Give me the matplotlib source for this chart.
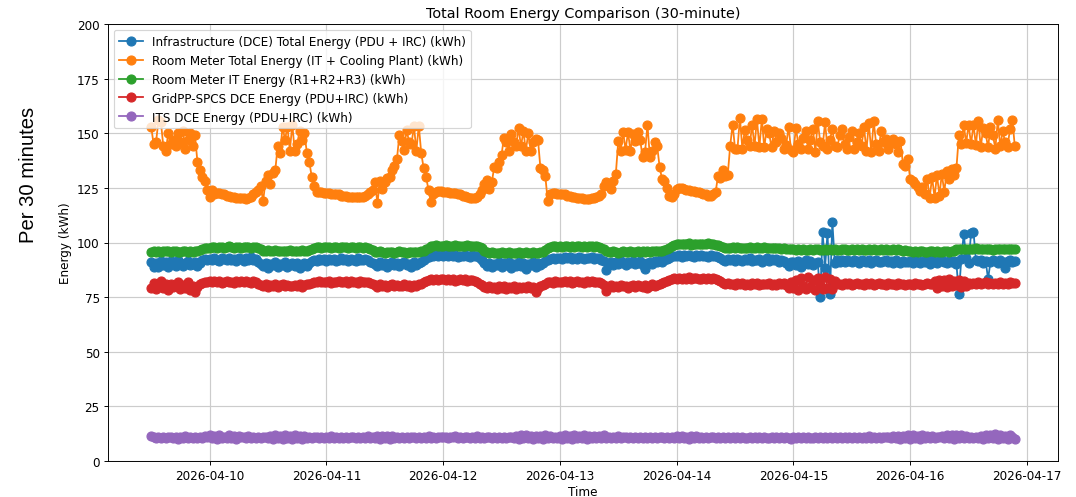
import matplotlib
matplotlib.use("Agg")
import matplotlib.pyplot as plt
import pandas as pd

# 30-minute readings starting 2026-04-09 12:00
start_time = "2026-04-09 12:00"
step = "30min"

infra_dce = [
    91.2, 89.0, 90.5, 88.7, 91.6, 89.8, 90.9, 88.9, 91.4, 90.1, 89.3, 91.8, 90.4, 89.1, 90.8, 91.5, 89.6, 90.3, 91.1, 89.4, 90.7, 91.9, 92.3, 92.0,
    92.5, 91.8, 93.0, 92.2, 91.6, 92.8, 92.4, 91.9, 93.1, 92.0, 92.6, 91.7, 92.9, 92.3, 91.5, 92.7, 92.1, 93.2, 91.8, 92.4, 91.2,
    90.1, 89.2, 90.6, 88.4, 90.3, 89.7, 91.0, 88.8, 90.2, 89.5, 90.9, 88.6, 89.9, 90.7, 89.1, 90.4, 88.3, 89.8, 90.5, 89.3, 90.8, 91.4,
    92.0, 91.6, 92.5, 91.8, 92.3,
    91.7, 92.4, 91.9, 92.6, 91.5, 92.2, 92.8, 91.8, 92.3, 91.6, 92.5, 92.0, 91.4, 92.7, 92.1, 91.8, 92.4, 91.9, 91.3, 90.8,
    90.2, 89.4, 91.0, 89.8, 90.6, 88.9, 90.4, 91.2, 89.6, 90.8, 89.2, 90.5, 91.1, 89.7, 90.3, 88.8, 90.9, 89.9, 90.6, 91.3, 92.0, 92.9, 93.5,
    94.1, 93.6, 94.4, 93.8, 94.2,
    93.9, 94.3, 93.6, 94.1, 93.8, 94.4, 93.5, 94.0, 93.7, 94.2, 93.9, 93.4, 94.1, 93.8, 93.6, 92.9, 92.1,
    90.4, 89.3, 90.8, 88.7, 90.1, 89.6, 91.2, 88.9, 90.5, 89.8, 91.0, 88.5, 90.3, 89.4, 90.9, 89.1, 90.6, 87.9, 90.2, 89.7, 91.1, 88.8, 90.4, 89.5, 90.7, 91.5, 92.2,
    92.6, 93.1, 92.5, 93.0,
    92.9, 92.4, 93.2, 92.7, 93.4, 92.6, 93.0, 92.3, 93.3, 92.8, 92.5, 93.1, 92.7, 93.5, 92.4, 92.9, 93.0, 92.2, 91.6,
    87.6, 90.5, 91.3, 89.9, 91.0, 90.2, 91.6, 90.7, 89.8, 91.2, 90.4, 91.5, 90.0, 90.8, 91.4, 89.6, 87.8, 90.6, 91.1, 90.3, 91.7, 90.9, 91.8, 91.2, 92.0, 92.4, 93.0, 93.6, 93.9,
    93.8, 94.3, 93.5, 94.1, 93.7, 94.5, 93.9, 93.4, 94.2, 93.6, 94.4, 93.8, 94.0, 93.5, 94.3, 93.7, 93.9, 93.2, 92.8,
    92.1, 91.6, 92.5, 91.9, 92.3, 91.4, 92.6, 92.0, 91.7, 92.4, 91.8, 92.7, 91.5, 92.2, 91.9, 92.5, 91.3, 92.1, 92.8, 91.6, 92.3, 91.8, 92.4, 91.2, 92.0, 91.5, 90.6, 89.3, 91.1,
    91.0, 89.5, 91.6, 88.9, 90.8, 91.9, 90.2, 91.4, 89.8, 90.6, 91.2,
    75.0, 104.7, 88.5, 104.3, 76.4, 109.5, 90.8,
    92.0, 91.3, 91.8, 90.9, 92.2, 91.5, 91.0, 91.9, 91.4, 90.7, 92.1, 91.6, 91.2, 91.8, 90.5, 91.7, 92.0, 91.3, 90.9, 91.6, 92.2, 91.1, 91.5, 90.8, 91.9, 91.3, 90.6, 91.7, 91.2, 91.0,
    91.4, 90.8, 91.9, 91.2, 90.5, 91.7, 91.0, 91.6, 90.3, 91.8, 91.1, 90.7, 91.5, 92.0, 91.2, 90.6, 91.4, 90.9, 91.7, 90.2,
    76.5, 92.5, 103.9, 93.0, 90.5, 104.2, 105.0, 92.2,
    91.5, 92.1, 90.8, 91.7, 83.3, 91.2, 92.0, 91.4, 90.6, 91.8, 91.1, 88.4, 91.6, 92.1, 91.3, 91.7,
]

room_total = [
    153, 145, 146, 156, 155, 144, 142, 150, 145, 147, 144, 150, 146, 151, 143, 147, 150, 144, 149, 137, 133, 130, 128, 124,
    121, 124, 122, 122.5, 122.5, 122, 122, 121.5, 121.5, 121, 121, 120.5, 120.5, 120.5, 120.5, 120, 120.5, 121, 122, 123,
    124, 126, 119, 128, 131, 127, 132, 133, 144, 141, 153, 147, 153, 142, 154, 142, 145, 151, 147, 150, 141, 137, 130, 126,
    123, 123, 123, 122.5,
    122.5, 122.5, 122, 122, 122, 122, 121.5, 121.5, 121.5, 121, 121, 121, 121, 121, 121, 121, 121.5, 122, 123, 124,
    127.5, 118, 128, 124.5, 127.5, 129.5, 130, 133, 135, 138, 149, 146.5, 142.5, 151.5, 146, 145, 153.5, 142, 153.5, 141,
    134, 130, 124, 118.5, 122, 123, 123.5, 123.5,
    123, 123, 123, 122.5, 122.5, 122.5, 122, 122, 121.5, 121.5, 121, 120.5, 120.5, 120.5, 121, 122, 124, 127, 128.5, 124.5,
    127.5, 134.5, 134, 137, 140, 148, 146, 142, 149.5, 146, 144, 152.5, 144, 151, 142, 150, 142, 146, 147.5, 147,
    134, 133, 130.5, 119, 122, 122.5, 122.5, 122,
    122, 122, 122, 121.5, 121.5, 121, 121, 120.5, 120.5, 120.5, 120, 120, 120, 120.5, 120.5, 121, 121.5, 122, 126, 127.5,
    126, 124.5, 128, 131.5, 146.5, 142, 150.5, 142.5, 150.5, 142, 149.5, 146.5, 150.5, 147, 139, 141.5, 153.8, 139, 142, 145.8,
    144, 134.5, 129, 128, 125, 121.5, 121, 122,
    124.5, 125, 125, 124.5, 124, 124, 123.5, 123.5, 123, 123, 122.5, 122, 122, 121.5, 121.5, 122, 123, 130.5, 129.5, 133,
    130.5, 131, 144.3, 154, 143, 143, 157, 143, 151.5, 147, 144, 154, 144, 156.5, 143.5, 156.5, 143.5, 152, 150, 143.5,
    151, 146, 150, 148, 143, 144.5, 153, 142.5,
    141.5, 152.5, 145, 143, 148, 151, 143, 147, 152, 141.5, 155.5, 146, 144, 155, 143, 147, 152, 144, 143.5, 149,
    152, 145, 143, 148.5, 151, 143, 146, 150, 144, 153, 142, 154.5, 141.5, 155.5, 145, 142, 151, 146, 147.5, 143,
    145.5, 147.5, 145, 141.5, 146.5, 136, 135, 138,
    129, 128, 127, 125.5, 123.5, 125.5, 122, 129, 120.5, 130, 120.5, 131, 121.5, 131.5, 123, 132.5, 129, 133.5, 131, 134,
    149, 145, 154, 145.5, 154, 145, 154, 144.5, 155.5, 143.5, 152.5, 150, 143.5, 153, 149, 143, 156, 144, 151, 146,
    143.5, 152, 156, 144,
]

room_it = [
    95.6, 96.0, 95.8, 96.2, 95.7, 96.1, 95.9, 96.3, 95.6, 96.0, 96.2, 95.8, 95.5, 95.9, 96.1, 95.7, 96.0, 95.8, 96.2, 95.9, 96.4, 96.8, 97.3, 97.6,
    97.7, 97.9, 98.1, 97.6, 97.8, 98.0, 97.7, 97.9, 98.2, 97.8, 97.6, 97.9, 98.0, 97.7, 97.8, 98.1, 97.9, 97.6, 97.8, 98.0, 97.5,
    96.8, 96.3, 96.1, 96.4, 96.0, 96.2, 96.5, 96.1, 95.9, 96.3, 96.2, 96.0, 96.4, 96.1, 96.3, 95.9, 96.2, 96.5, 96.0, 96.3, 96.6, 97.1,
    97.6, 97.8, 98.0, 97.7, 97.9,
    97.8, 98.0, 97.7, 97.9, 98.1, 97.6, 97.8, 98.0, 97.9, 97.7, 98.1, 97.8, 97.6, 97.9, 98.0, 97.7, 97.8, 97.5, 97.0, 96.4,
    95.8, 95.5, 95.9, 95.6, 95.4, 95.7, 95.8, 95.5, 95.3, 95.6, 95.9, 95.5, 95.7, 95.4, 95.6, 95.8, 95.5, 95.7, 95.6, 95.9, 96.3, 96.9, 97.6,
    98.2, 98.5, 98.7, 98.4, 98.6,
    98.5, 98.8, 98.4, 98.6, 98.3, 98.7, 98.5, 98.2, 98.6, 98.4, 98.7, 98.5, 98.3, 98.6, 98.4, 98.1, 97.4,
    96.3, 95.6, 95.2, 95.5, 95.1, 95.4, 95.3, 95.6, 95.0, 95.2, 95.5, 95.3, 95.1, 95.4, 95.6, 95.2, 95.3, 95.5, 95.1, 95.4, 95.6, 95.3, 95.2, 95.5, 95.8, 96.4, 97.3,
    97.9, 98.2, 98.4, 98.1,
    98.3, 98.0, 98.2, 98.4, 98.1, 98.3, 98.0, 98.2, 98.5, 98.1, 98.3, 97.9, 98.2, 98.4, 98.0, 98.2, 98.1, 97.6, 96.9,
    96.2, 95.8, 95.5, 95.9, 95.7, 95.4, 95.8, 96.0, 95.6, 95.7, 95.9, 95.5, 95.8, 96.0, 95.6, 95.9, 95.7, 96.1, 95.8, 96.0, 96.2, 95.9, 96.3, 96.1, 96.4, 96.8, 97.5, 98.3, 98.9,
    99.2, 99.5, 99.1, 99.4, 99.3, 99.6, 99.0, 99.3, 99.5, 99.2, 99.4, 99.1, 99.3, 99.6, 99.2, 99.4, 99.0, 98.7, 98.2,
    97.8, 97.5, 97.7, 97.4, 97.8, 97.6, 97.9, 97.5, 97.7, 97.3, 97.6, 97.8, 97.5, 97.7, 97.9, 97.4, 97.6, 97.8, 97.5, 97.3, 97.6, 97.7, 97.4, 97.6, 97.2, 97.5, 97.0, 96.8, 97.1,
    96.8, 96.5, 96.9, 96.6, 97.0, 96.7, 96.4, 96.8, 96.6, 97.1, 96.9, 96.5, 96.7, 97.0, 96.6, 96.8, 96.4, 96.9, 96.7, 96.5, 96.8, 97.0, 96.6, 96.7,
    96.9, 96.5, 96.8, 96.6, 97.0, 96.7, 96.4, 96.8, 96.6, 96.9, 96.5, 96.7, 97.0, 96.6, 96.8, 96.4, 96.7, 96.9, 96.5, 96.8, 96.6, 96.3, 96.5, 96.2,
    96.0, 95.8, 96.1, 95.7, 95.9, 96.0, 95.6, 95.8, 96.1, 95.9, 95.7, 96.0, 95.8, 95.6, 95.9, 96.1, 95.8, 96.0, 96.3,
    96.8, 97.1, 96.9, 97.2, 97.0, 96.8, 97.1, 96.9, 97.3, 97.0, 96.8, 97.1, 96.9, 97.2, 97.0, 96.7, 97.0, 96.9, 97.2, 97.1, 96.8, 97.0, 96.9, 97.1, 97.0,
]

gridpp_dce = [
    79.2, 81.5, 78.6, 80.3, 82.4, 79.0, 80.8, 78.2, 81.2, 79.6, 80.1, 82.0, 78.9, 80.6, 79.4, 81.7, 78.4, 80.2, 77.3, 79.8, 81.0, 81.6, 82.1, 81.8,
    82.2, 81.7, 82.5, 81.9, 82.3, 81.6, 82.0, 82.6, 81.8, 82.1, 81.5, 82.4, 81.9, 82.2, 81.7, 82.5, 82.0, 81.6, 82.3, 81.8, 81.2,
    80.6, 80.2, 80.9, 79.8, 80.5, 80.1, 80.8, 79.6, 80.4, 81.0, 80.0, 80.7, 80.3, 79.9, 80.6, 80.2, 80.9, 79.7, 80.5, 80.8, 81.2, 81.6,
    82.0, 81.7, 82.3, 81.9, 82.1,
    81.9, 82.3, 81.6, 82.1, 81.8, 82.4, 81.7, 82.0, 82.2, 81.5, 82.3, 81.9, 82.1, 81.6, 82.2, 81.8, 82.0, 81.7, 81.4, 80.9,
    80.5, 79.8, 80.8, 80.2, 80.6, 79.5, 80.4, 81.0, 80.1, 80.7, 79.9, 80.3, 80.9, 80.0, 80.6, 79.7, 80.5, 80.2, 80.8, 81.2, 81.8, 82.4, 82.9,
    83.2, 82.8, 83.5, 83.0, 83.3,
    83.1, 82.7, 83.4, 82.9, 83.2, 82.6, 83.0, 83.3, 82.8, 83.1, 82.5, 83.0, 82.7, 82.4, 81.9, 81.2, 80.6,
    79.8, 79.3, 80.1, 79.0, 79.6, 78.8, 79.9, 79.2, 80.3, 78.9, 79.7, 79.4, 80.0, 78.6, 79.5, 79.1, 79.8, 79.3, 80.2, 79.0, 79.6, 77.3, 79.4, 80.1, 80.6, 81.2, 81.7,
    82.0, 81.6, 82.3, 81.9,
    82.1, 81.7, 82.4, 81.9, 82.2, 81.6, 82.0, 82.3, 81.8, 82.1, 81.5, 82.2, 81.9, 82.4, 81.7, 82.0, 81.8, 81.3, 80.7,
    77.6, 79.8, 80.4, 79.5, 80.2, 79.7, 80.6, 79.9, 80.3, 79.4, 80.1, 80.7, 79.6, 80.4, 80.0, 79.8, 80.5, 79.3, 80.2, 80.8, 80.1, 80.6, 81.0, 81.5, 82.1, 82.6, 83.0, 83.3, 83.6,
    83.5, 83.9, 83.2, 83.7, 83.4, 84.0, 83.3, 83.6, 83.8, 83.1, 83.5, 83.9, 83.4, 83.7, 83.2, 83.6, 83.3, 82.8, 82.2,
    81.5, 81.0, 81.4, 80.8, 81.2, 80.6, 81.3, 80.9, 81.5, 80.7, 81.1, 80.5, 81.3, 80.9, 81.4, 80.6, 81.0, 81.2, 80.8, 81.4, 80.7, 81.1, 80.4, 81.3, 80.9, 81.5, 80.6, 79.4, 81.8,
    79.0, 82.8, 78.4, 83.6, 80.2, 78.9, 84.1, 79.5, 82.9, 78.2, 83.8, 80.6, 78.7, 84.3, 79.2, 83.1, 78.5, 82.4, 80.8,
    81.2, 80.7, 81.5, 80.9, 81.3, 80.6, 81.1, 81.4, 80.8, 81.2, 80.5, 81.3, 80.9, 81.6, 80.7, 81.0, 81.4, 80.8, 81.2, 80.6, 81.3, 80.9, 81.1, 80.5, 81.4, 80.8, 81.2, 80.6, 81.0,
    81.1, 80.7, 81.3, 80.9, 81.2, 80.6, 81.0, 81.4, 80.8, 81.2, 82.6, 79.4, 83.0, 80.2, 82.8, 79.6, 83.1, 79.9, 82.5, 80.4,
    82.9, 79.5, 82.3, 80.1, 81.6, 80.8, 81.4, 81.0, 81.7, 80.9, 81.3, 81.8, 81.0, 81.5, 80.8, 81.6, 81.2, 81.9, 81.1, 81.5,
    80.9, 81.7, 81.3, 81.6,
]

its_dce = [
    11.6, 10.9, 10.4, 11.0, 10.6, 11.2, 10.3, 10.8, 11.1, 10.5, 10.9, 10.2, 11.0, 10.7, 11.3, 10.4, 10.8, 10.6, 11.1, 10.3, 10.9, 10.5, 11.4, 10.8,
    11.8, 10.4, 11.5, 10.1, 11.7, 10.6, 11.2, 10.3, 11.9, 10.5, 11.4, 10.2, 11.6, 10.8, 11.0, 10.4, 11.3, 10.7, 10.9, 10.5, 11.1, 10.3, 10.8, 11.2,
    10.6, 11.5, 10.2, 11.8, 10.4, 11.6, 10.0, 11.9, 10.3, 11.4, 10.1, 11.7, 10.6, 11.3, 10.2, 11.5, 10.7, 11.0, 10.4, 11.2, 10.8, 10.5, 11.1, 10.6,
    11.0, 10.5, 11.3, 10.7, 10.9, 10.4, 11.2, 10.6, 11.0, 10.3, 11.1, 10.8, 10.5, 11.2, 10.7, 10.9, 10.4, 11.3, 10.6, 11.0, 10.5, 11.4, 10.2, 11.6,
    10.4, 11.5, 10.1, 11.3, 10.6, 11.1, 10.5, 10.9, 10.7, 11.2, 10.4, 11.0, 10.8, 10.6, 11.1, 10.5, 10.9, 10.7, 11.3, 10.4, 11.0, 10.6, 11.2, 10.8,
    10.9, 11.2, 10.6, 11.0, 10.8, 11.3, 10.5, 11.1, 10.7, 10.9, 11.2, 10.6, 11.0, 10.4, 11.3, 10.7, 10.9, 10.5, 11.1, 10.8, 10.6, 11.0, 10.3, 11.2,
    10.7, 10.9, 10.5, 11.1, 10.8, 10.6, 11.4, 10.2, 11.7, 10.3, 11.8, 10.4, 11.5, 10.1, 11.6, 10.5, 11.3, 10.2, 11.7, 10.4, 11.5, 10.6, 11.2, 10.3,
    11.6, 10.2, 11.8, 10.4, 11.5, 10.1, 11.9, 10.3, 11.4, 10.6, 11.7, 10.2, 11.5, 10.5, 11.3, 10.4, 11.6, 10.3, 11.8, 10.5, 11.2, 10.7, 11.0, 10.4,
    11.3, 10.6, 11.1, 10.8, 10.5, 11.2, 10.7, 10.9, 10.4, 11.0, 10.6, 11.1, 10.3, 10.9, 10.7, 11.2, 10.5, 11.0, 10.8, 10.6, 11.1, 10.4, 10.9, 10.7,
    11.4, 10.3, 11.6, 10.5, 11.2, 10.2, 11.5, 10.6, 11.3, 10.4, 11.0, 10.7, 10.9, 10.5, 11.1, 10.8, 10.6, 11.0, 10.4, 11.2, 10.7, 10.9, 10.3, 11.0,
    10.6, 10.8, 10.4, 11.1, 10.7, 10.5, 10.9, 10.3, 11.2, 10.6, 10.8, 10.5, 11.0, 10.7, 10.4, 10.9, 10.6, 11.1, 10.3, 10.8, 10.5, 11.0, 10.6, 10.2,
    10.8, 10.4, 11.0, 10.6, 10.9, 10.5, 11.1, 10.7, 10.3, 11.0, 10.6, 10.8, 10.4, 11.2, 10.7, 10.9, 10.5, 11.0, 10.6, 10.8, 10.3, 11.1, 10.7, 10.9,
    10.5, 11.2, 10.6, 10.8, 10.4, 11.0, 10.7, 11.3, 10.5, 11.1, 10.6, 10.9, 10.4, 11.2, 10.8, 11.0, 10.5, 11.4, 10.3, 11.6, 10.2, 11.5, 10.4, 11.7,
    10.1, 11.8, 10.3, 11.5, 10.2, 11.9, 10.4, 11.6, 10.6, 11.3, 10.5, 11.1, 10.8, 11.4, 10.3, 11.7, 10.5, 11.9, 10.2, 12.1, 10.4, 11.8,
    10.6, 11.5, 10.3, 11.2, 10.7, 11.0, 10.5, 11.4, 10.2, 12.0, 10.4, 11.8, 10.3, 12.2, 10.1, 11.9, 10.5, 11.6, 10.2, 12.0, 10.8, 10.1,
]

series = [
    ("Infrastructure (DCE) Total Energy (PDU + IRC) (kWh)", infra_dce),
    ("Room Meter Total Energy (IT + Cooling Plant) (kWh)", room_total),
    ("Room Meter IT Energy (R1+R2+R3) (kWh)", room_it),
    ("GridPP-SPCS DCE Energy (PDU+IRC) (kWh)", gridpp_dce),
    ("ITS DCE Energy (PDU+IRC) (kWh)", its_dce),
]

DPI = 86
W, H = 1076, 498
fig = plt.figure(figsize=(W / DPI, H / DPI), dpi=DPI)
ax = fig.add_axes([108 / W, 36 / H, 950 / W, 437 / H])

for label, values in series:
    times = pd.date_range(start_time, periods=len(values), freq=step)
    ax.plot(times, values, marker="o", markersize=7.5, label=label)

ax.set_ylim(0, 200)
ax.set_title("Total Room Energy Comparison (30-minute)")
ax.set_xlabel("Time", labelpad=2)
ax.set_ylabel("Energy (kWh)")
ax.grid(True, color="#cccccc", linewidth=1.0)
ax.legend(loc="upper left")

fig.text(28 / W, 1 - 175 / H, "Per 30 minutes", rotation=90,
         fontsize=17, family="Liberation Sans", ha="center", va="center")

fig.savefig("out.png", dpi=DPI)
